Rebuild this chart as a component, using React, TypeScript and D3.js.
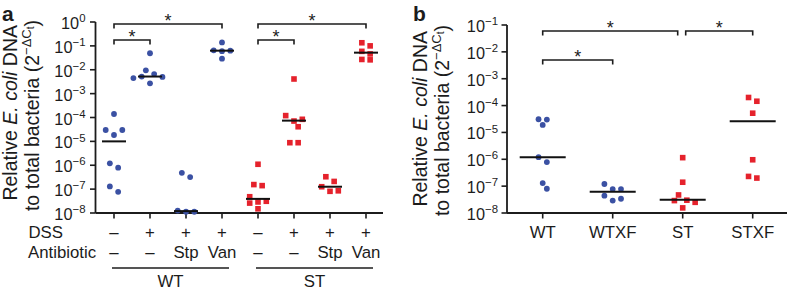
import React from "react";
import * as d3 from "d3";

const FONT = "'Liberation Sans', Arial, Helvetica, sans-serif";
const BLUE = "#3b51a3";
const RED = "#e5222c";
const INK = "#1c1c1c";

// ---------- Panel a data ----------
const groupsA = ["WT-", "WT+", "WT+Stp", "WT+Van", "ST-", "ST+", "ST+Stp", "ST+Van"];
const strainA = ["WT", "WT", "WT", "WT", "ST", "ST", "ST", "ST"];
const dssA = ["–", "+", "+", "+", "–", "+", "+", "+"];
const abxA = ["–", "–", "Stp", "Van", "–", "–", "Stp", "Van"];
const valuesA: number[][] = [
  [1.4e-4, 3.0e-5, 3.0e-5, 1.85e-5, 1.2e-6, 7.9e-7, 1.3e-7, 7.7e-8],
  [0.049, 0.0095, 0.0066, 0.0052, 0.005, 0.0045, 0.0027],
  [4.8e-7, 3.2e-7, 1.26e-8, 1.13e-8, 1.13e-8],
  [0.14, 0.065, 0.063, 0.06, 0.029],
  [1.1e-6, 1.55e-7, 1.4e-7, 4.8e-8, 3.1e-8, 2.9e-8, 2.6e-8, 1.5e-8],
  [4.1e-3, 1.2e-4, 8.4e-5, 7.1e-5, 4.1e-5, 8.8e-6, 8.8e-6],
  [3.3e-7, 2.1e-7, 1.26e-7, 8.5e-8, 8.1e-8],
  [0.135, 0.1, 0.059, 0.046, 0.027, 0.026],
];
const mediansA = [1.0e-5, 0.0052, 1.2e-8, 0.063, 3.9e-8, 7.4e-5, 1.26e-7, 0.052];
const expTicksA = [0, -1, -2, -3, -4, -5, -6, -7, -8];
const strainGroupsA = [
  { label: "WT", from: 0, to: 3 },
  { label: "ST", from: 4, to: 7 },
];
const sigA = [
  { from: 0, to: 3, level: 0 },
  { from: 0, to: 1, level: 1 },
  { from: 4, to: 7, level: 0 },
  { from: 4, to: 5, level: 1 },
];

// ---------- Panel b data ----------
const groupsB = ["WT", "WTXF", "ST", "STXF"];
const strainB = ["WT", "WT", "ST", "ST"];
const valuesB: number[][] = [
  [3.1e-5, 3.0e-5, 1.9e-5, 1.2e-6, 7.9e-7, 1.3e-7, 8.0e-8],
  [1.2e-7, 7.8e-8, 7.8e-8, 4.4e-8, 3.4e-8, 2.9e-8],
  [1.15e-6, 1.4e-7, 4.7e-8, 3.0e-8, 2.9e-8, 2.5e-8, 1.55e-8],
  [2.0e-4, 1.45e-4, 5.2e-5, 9.6e-7, 2.3e-7, 2.0e-7],
];
const mediansB = [1.2e-6, 6.2e-8, 3.1e-8, 2.6e-5];
const expTicksB = [-1, -2, -3, -4, -5, -6, -7, -8];
const sigB = [
  { from: 0, to: 2, level: 0 },
  { from: 2, to: 3, level: 0 },
  { from: 0, to: 1, level: 1 },
];

// ---------- helpers ----------
type P = { v: number; y: number; dx: number };
function swarm(vals: number[], y: (v: number) => number, s = 8.3, rowGap = 5.5, minD = 5.8): P[] {
  const pts: P[] = vals.map((v) => ({ v, y: y(v), dx: 0 })).sort((a, b) => a.y - b.y);
  const rows: P[][] = [];
  let cur: P[] = [];
  for (const p of pts) {
    if (cur.length && p.y - cur[0].y > rowGap) {
      rows.push(cur);
      cur = [];
    }
    cur.push(p);
  }
  if (cur.length) rows.push(cur);
  const placed: P[] = [];
  for (const row of rows) {
    const n = row.length;
    const slots = d3.range(n).map((i) => (i - (n - 1) / 2) * s);
    slots.sort((a, b) => Math.abs(b) - Math.abs(a) || a - b);
    row.forEach((p, i) => {
      let dx = slots[i];
      const ok = (x: number) => placed.every((q) => Math.hypot(q.dx - x, q.y - p.y) >= minD);
      if (!ok(dx)) {
        const sg = dx >= 0 ? 1 : -1;
        for (let k = 1; k < 10; k++) {
          const c1 = dx + (k * s * sg) / 2;
          if (ok(c1)) { dx = c1; break; }
          const c2 = dx - (k * s * sg) / 2;
          if (ok(c2)) { dx = c2; break; }
        }
      }
      p.dx = dx;
      placed.push(p);
    });
  }
  return pts;
}

function Marker({ x, y, strain }: { x: number; y: number; strain: string }) {
  if (strain === "WT") return <circle cx={x} cy={y} r={2.9} fill={BLUE} />;
  const s = 5.6;
  return <rect x={x - s / 2} y={y - s / 2} width={s} height={s} fill={RED} />;
}

function Pow10({ x, y, e, size }: { x: number; y: number; e: number; size: number }) {
  const txt = e < 0 ? "−" + Math.abs(e) : String(e);
  return (
    <text x={x} y={y} textAnchor="end" fontSize={size} fill={INK} fontFamily={FONT}>
      10
      <tspan dy={-size * 0.42} fontSize={size * 0.7}>{txt}</tspan>
    </text>
  );
}

function YLabel({ x1, x2, top1, top2 }: { x1: number; x2: number; top1: number; top2: number }) {
  const F = 19.5;
  return (
    <g fontFamily={FONT} fill={INK} fontSize={F}>
      <text transform={`translate(${x1},${top1}) rotate(-90)`} textAnchor="end">
        Relative <tspan fontStyle="italic">E. coli</tspan> DNA
      </text>
      <text transform={`translate(${x2},${top2}) rotate(-90)`} textAnchor="end">
        to total bacteria (2
        <tspan dy={-8.5} fontSize={13}>−ΔC</tspan>
        <tspan dy={3.5} fontSize={10}>t</tspan>
        <tspan dy={5} fontSize={F}>)</tspan>
      </text>
    </g>
  );
}

function Brackets({ sig, x, levelY }: { sig: { from: number; to: number; level: number }[]; x: (i: number) => number; levelY: number[] }) {
  return (
    <g>
      {sig.map((b, i) => {
        const sharedLeft = sig.some((o, j) => j !== i && o.level === b.level && o.to === b.from);
        const sharedRight = sig.some((o, j) => j !== i && o.level === b.level && o.from === b.to);
        const x0 = x(b.from) + (sharedLeft ? 3 : 0);
        const x1 = x(b.to) - (sharedRight ? 5 : 0);
        const y = levelY[b.level];
        return (
          <g key={i}>
            <path d={`M${x0},${y + 4.5}V${y}H${x1}V${y + 4.5}`} fill="none" stroke={INK} strokeWidth={1.6} />
            <text x={(x0 + x1) / 2} y={y + 2.5} textAnchor="middle" fontSize={18} fontFamily={FONT} fill={INK}>
              *
            </text>
          </g>
        );
      })}
    </g>
  );
}

export default function App() {
  // Panel a scales
  const axA = 95.5;
  const yA = d3.scaleLog().domain([1e-8, 1]).range([213, 22]);
  const xA = d3.scalePoint<number>().domain(d3.range(groupsA.length)).range([114, 366]);
  const xa = (i: number) => xA(i) as number;

  // Panel b scales
  const axB = 507;
  const yB = d3.scaleLog().domain([1e-8, 1e-1]).range([213, 25]);
  const xB = d3.scalePoint<number>().domain(d3.range(groupsB.length)).range([542.7, 752.7]);
  const xb = (i: number) => xB(i) as number;

  const TF = 16.3;
  const CF = 16.8;

  return (
    <svg width={788} height={292} style={{ position: "absolute", left: 0, top: 0, background: "#fff" }}>
      <rect width={788} height={292} fill="#fff" />
      {/* ---------------- Panel a ---------------- */}
      <text x={2} y={21} fontSize={21} fontWeight="bold" fontFamily={FONT} fill={INK}>a</text>
      <YLabel x1={17} x2={39} top1={25} top2={20} />
      {/* axes */}
      <line x1={axA} x2={axA} y1={yA(1)} y2={yA(1e-8)} stroke={INK} strokeWidth={1.8} />
      <line x1={axA} x2={383} y1={213} y2={213} stroke={INK} strokeWidth={1.8} />
      {expTicksA.map((e) => (
        <g key={e}>
          <line x1={axA - 5.5} x2={axA} y1={yA(10 ** e)} y2={yA(10 ** e)} stroke={INK} strokeWidth={1.6} />
          <Pow10 x={axA - 10} y={yA(10 ** e) + 7} e={e} size={TF} />
        </g>
      ))}
      {groupsA.map((g, i) => (
        <line key={g} x1={xa(i)} x2={xa(i)} y1={213} y2={218.5} stroke={INK} strokeWidth={1.6} />
      ))}
      {/* points */}
      {valuesA.map((vals, i) =>
        swarm(vals, (v) => yA(v)).map((p, k) => (
          <Marker key={`${i}-${k}`} x={xa(i) + p.dx} y={p.y} strain={strainA[i]} />
        ))
      )}
      {mediansA.map((m, i) => (
        <line key={i} x1={xa(i) - 12} x2={xa(i) + 12} y1={yA(m)} y2={yA(m)} stroke="#111" strokeWidth={2} />
      ))}
      <Brackets sig={sigA} x={xa} levelY={[24, 40]} />
      {/* bottom labels */}
      <g fontFamily={FONT} fontSize={CF} fill={INK}>
        <text x={28.5} y={238.3}>DSS</text>
        <text x={28} y={257.5}>Antibiotic</text>
        {dssA.map((d, i) => (
          <text key={i} x={xa(i)} y={238.3} textAnchor="middle">{d}</text>
        ))}
        {abxA.map((d, i) => (
          <text key={i} x={xa(i)} y={257.5} textAnchor="middle">{d}</text>
        ))}
        {strainGroupsA.map((s) => {
          const x0 = xa(s.from) - 2;
          const x1 = xa(s.to) + 7;
          return (
            <g key={s.label}>
              <line x1={x0} x2={x1} y1={268} y2={268} stroke={INK} strokeWidth={1.6} />
              <text x={(x0 + x1) / 2} y={287} textAnchor="middle">{s.label}</text>
            </g>
          );
        })}
      </g>

      {/* ---------------- Panel b ---------------- */}
      <text x={413} y={21} fontSize={21} fontWeight="bold" fontFamily={FONT} fill={INK}>b</text>
      <YLabel x1={axB - 80} x2={axB - 58} top1={31} top2={25} />
      <line x1={axB} x2={axB} y1={yB(1e-1)} y2={213} stroke={INK} strokeWidth={1.8} />
      <line x1={axB} x2={787} y1={213} y2={213} stroke={INK} strokeWidth={1.8} />
      {expTicksB.map((e) => (
        <g key={e}>
          <line x1={axB - 5.5} x2={axB} y1={yB(10 ** e)} y2={yB(10 ** e)} stroke={INK} strokeWidth={1.6} />
          <Pow10 x={axB - 9} y={yB(10 ** e) + 7} e={e} size={TF} />
        </g>
      ))}
      {groupsB.map((g, i) => (
        <g key={g}>
          <line x1={xb(i)} x2={xb(i)} y1={213} y2={218.5} stroke={INK} strokeWidth={1.6} />
          <text x={xb(i)} y={238} textAnchor="middle" fontFamily={FONT} fontSize={CF} fill={INK}>{g}</text>
        </g>
      ))}
      {valuesB.map((vals, i) =>
        swarm(vals, (v) => yB(v)).map((p, k) => (
          <Marker key={`${i}-${k}`} x={xb(i) + p.dx} y={p.y} strain={strainB[i]} />
        ))
      )}
      {mediansB.map((m, i) => (
        <line key={i} x1={xb(i) - 23} x2={xb(i) + 23} y1={yB(m)} y2={yB(m)} stroke="#111" strokeWidth={2} />
      ))}
      <Brackets sig={sigB} x={xb} levelY={[31, 60]} />
    </svg>
  );
}
